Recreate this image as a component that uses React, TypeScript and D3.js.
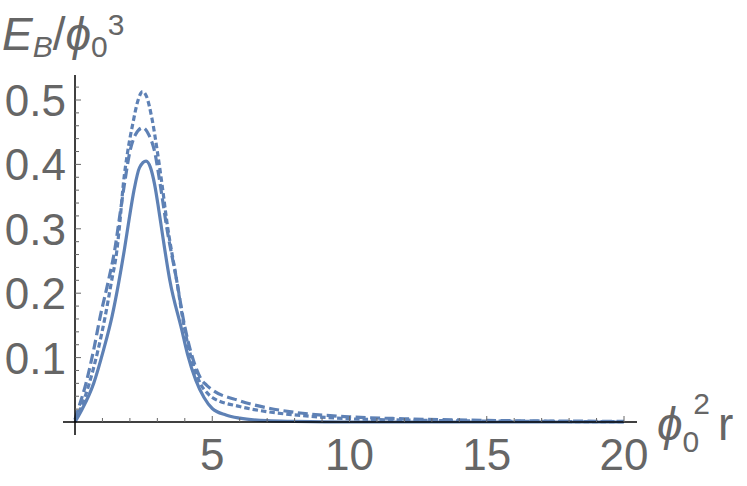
import React from "react";
import * as d3 from "d3";

// curve samples: [phi0^2 r, E_B/phi0^3]
const solidX = [0, 0.25, 0.68, 1.04, 1.35, 1.59, 1.8, 1.98, 2.15, 2.35, 2.59, 2.75, 2.9, 3.05, 3.17, 3.45, 3.89, 4.1, 4.4, 4.7, 5.0, 5.5, 6, 7, 8, 10, 20];
const solidY = [0, 0.019, 0.06, 0.112, 0.164, 0.216, 0.268, 0.317, 0.36, 0.395, 0.405, 0.395, 0.369, 0.33, 0.296, 0.221, 0.143, 0.105, 0.065, 0.038, 0.021, 0.011, 0.006, 0.002, 0.001, 0, 0];

const longX = [0, 0.11, 0.4, 0.68, 0.92, 1.2, 1.45, 1.62, 1.8, 2.0, 2.2, 2.47, 2.7, 2.9, 3.1, 3.35, 3.7, 4.0, 4.2, 4.4, 4.6, 4.8, 5.0, 6, 7, 8, 10, 12, 15, 20];
const longY = [0.004, 0.019, 0.06, 0.112, 0.164, 0.216, 0.268, 0.317, 0.369, 0.42, 0.446, 0.457, 0.445, 0.42, 0.37, 0.3, 0.221, 0.148, 0.112, 0.085, 0.066, 0.057, 0.05, 0.033, 0.022, 0.015, 0.008, 0.005, 0.0025, 0.001];

const shortX = [0, 0.19, 0.52, 0.84, 1.1, 1.32, 1.53, 1.65, 1.76, 1.92, 2.1, 2.3, 2.46, 2.6, 2.8, 3.0, 3.17, 3.35, 3.7, 4.0, 4.2, 4.4, 4.6, 4.8, 5.0, 6, 7, 8, 10, 12, 15, 20];
const shortY = [0.003, 0.019, 0.06, 0.112, 0.164, 0.216, 0.268, 0.317, 0.369, 0.42, 0.462, 0.5, 0.513, 0.506, 0.472, 0.42, 0.369, 0.31, 0.221, 0.143, 0.105, 0.077, 0.057, 0.046, 0.038, 0.024, 0.016, 0.011, 0.005, 0.003, 0.0015, 0.0005];

const xTickLabels = [5, 10, 15, 20];
const yTickLabels = [0.1, 0.2, 0.3, 0.4, 0.5];

const W = 747;
const H = 486;
const BLUE = "#5e81b5";
const GREY = "#666666";

export default function App() {
  const x = d3.scaleLinear().domain([0, 20]).range([75, 624]);
  const y = d3.scaleLinear().domain([0, 0.5]).range([422, 100]);

  const line = d3
    .line<[number, number]>()
    .x((d) => x(d[0]))
    .y((d) => y(d[1]))
    .curve(d3.curveMonotoneX);

  const zip = (a: number[], b: number[]) => a.map((v, i) => [v, b[i]] as [number, number]);

  const series = [
    { pts: zip(solidX, solidY), dash: "none" },
    { pts: zip(longX, longY), dash: "10,4.5" },
    { pts: zip(shortX, shortY), dash: "5.5,3" },
  ];

  const xMinor = d3.range(1, 21);
  const yMinor = d3.range(1, 27).map((i) => i * 0.02);

  return (
    <svg width={W} height={H} style={{ position: "absolute", left: 0, top: 0, background: "#fff" }}
      fontFamily="'Liberation Sans', Arial, sans-serif">
      {series.map((s, i) => (
        <path key={i} d={line(s.pts) || ""} fill="none" stroke={BLUE} strokeWidth={3.2}
          strokeDasharray={s.dash} strokeLinejoin="round" />
      ))}

      {/* axes */}
      <line x1={63} x2={637} y1={y(0)} y2={y(0)} stroke="#000" strokeWidth={1.5} />
      <line x1={x(0)} x2={x(0)} y1={75} y2={435} stroke="#000" strokeWidth={1.5} />

      {xMinor.map((t) => (
        <line key={"xt" + t} x1={x(t)} x2={x(t)} y1={y(0)} y2={y(0) - (t % 5 === 0 ? 6 : 4)}
          stroke={GREY} strokeWidth={1} />
      ))}
      {yMinor.map((t, i) => (
        <line key={"yt" + i} x1={x(0)} x2={x(0) + ((i + 1) % 5 === 0 ? 6 : 4)} y1={y(t)} y2={y(t)}
          stroke={GREY} strokeWidth={1} />
      ))}

      {xTickLabels.map((t) => (
        <text key={"xl" + t} x={x(t)} y={470} textAnchor="middle" fontSize={44} fill={GREY}>
          {t}
        </text>
      ))}
      {yTickLabels.map((t) => (
        <text key={"yl" + t} x={66} y={y(t) + 16} textAnchor="end" fontSize={44} fill={GREY}>
          {t.toFixed(1)}
        </text>
      ))}

      {/* axis titles */}
      <text x={2} y={50} fontSize={46} fill={GREY}>
        <tspan fontStyle="italic">E</tspan>
        <tspan fontStyle="italic" fontSize={30} dy={7}>B</tspan>
        <tspan dy={-7}>/</tspan>
        <tspan fontStyle="italic">ϕ</tspan>
        <tspan fontSize={30} dy={7}>0</tspan>
        <tspan fontSize={30} dy={-22}>3</tspan>
      </text>
      <text x={657} y={440} fontSize={46} fill={GREY}>
        <tspan fontStyle="italic">ϕ</tspan>
        <tspan fontSize={30} dy={12}>0</tspan>
        <tspan fontSize={30} dy={-38} dx={-6}>2</tspan>
        <tspan dy={26} dx={8}>r</tspan>
      </text>
    </svg>
  );
}
